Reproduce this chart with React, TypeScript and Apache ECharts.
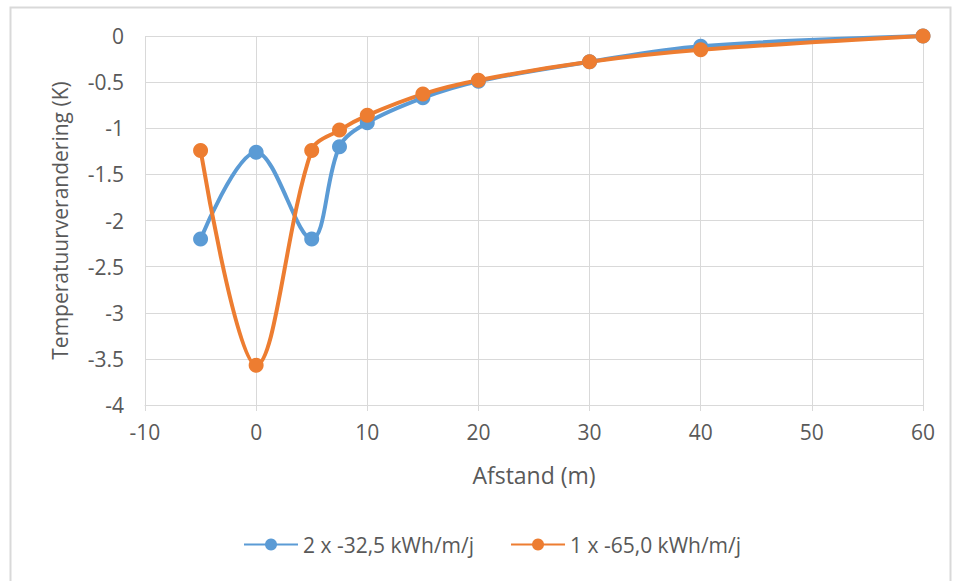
import React, { useEffect, useRef } from "react";
import * as echarts from "echarts";

const xValues = [-5, 0, 5, 7.5, 10, 15, 20, 30, 40, 60];
const blueValues = [-2.2, -1.26, -2.2, -1.2, -0.94, -0.67, -0.49, -0.28, -0.11, 0];
const orangeValues = [-1.24, -3.57, -1.24, -1.02, -0.86, -0.63, -0.48, -0.28, -0.15, 0];
const seriesNames = ["2 x -32,5 kWh/m/j", "1 x -65,0 kWh/m/j"];
const xAxisTitle = "Afstand (m)";
const yAxisTitle = "Temperatuurverandering (K)";

const FONT = "'Open Sans', 'Liberation Sans', sans-serif";
const TXT = "#595959";

export default function App() {
  const ref = useRef<HTMLDivElement>(null);
  useEffect(() => {
    if (!ref.current) return;
    const chart = echarts.init(ref.current, undefined, { renderer: "svg" });
    const mk = (ys: number[]) => xValues.map((x, i) => [x, ys[i]]);
    chart.setOption({
      animation: false,
      backgroundColor: "#ffffff",
      textStyle: { fontFamily: FONT },
      graphic: [
        {
          type: "rect",
          shape: { x: 10.5, y: 7.5, width: 940, height: 590 },
          style: { fill: "none", stroke: "#d9d9d9", lineWidth: 2 },
          silent: true,
        },
      ],
      grid: { left: 145, right: 32, top: 36, bottom: 176, containLabel: false },
      legend: {
        top: 529,
        left: 238,
        itemGap: 36,
        itemWidth: 54,
        itemHeight: 15,
        textStyle: { color: TXT, fontSize: 21, fontFamily: FONT },
        data: seriesNames,
      },
      xAxis: {
        type: "value",
        min: -10,
        max: 60,
        interval: 10,
        name: xAxisTitle,
        nameLocation: "middle",
        nameGap: 58,
        nameTextStyle: { color: TXT, fontSize: 23, fontFamily: FONT },
        axisLine: { show: true, onZero: false, lineStyle: { color: "#d9d9d9", width: 1 } },
        axisTick: { show: true, length: 6, lineStyle: { color: "#d9d9d9" } },
        axisLabel: { color: TXT, fontSize: 21, margin: 16, fontFamily: FONT },
        splitLine: { show: true, lineStyle: { color: "#d9d9d9", width: 1 } },
      },
      yAxis: {
        type: "value",
        min: -4,
        max: 0,
        interval: 0.5,
        name: yAxisTitle,
        nameLocation: "middle",
        nameGap: 75,
        nameRotate: 90,
        nameTextStyle: { color: TXT, fontSize: 21, fontFamily: FONT },
        axisLine: { show: false },
        axisTick: { show: false },
        axisLabel: { color: TXT, fontSize: 21, margin: 21, fontFamily: FONT },
        splitLine: { show: true, lineStyle: { color: "#d9d9d9", width: 1 } },
      },
      series: [
        {
          name: seriesNames[0],
          type: "line",
          data: mk(blueValues),
          smooth: 0.35,
          symbol: "circle",
          symbolSize: 15,
          itemStyle: { color: "#5B9BD5" },
          lineStyle: { color: "#5B9BD5", width: 4 },
        },
        {
          name: seriesNames[1],
          type: "line",
          data: mk(orangeValues),
          smooth: 0.35,
          symbol: "circle",
          symbolSize: 15,
          itemStyle: { color: "#ED7D31" },
          lineStyle: { color: "#ED7D31", width: 4 },
        },
      ],
    });
    return () => chart.dispose();
  }, []);
  return (
    <div
      ref={ref}
      style={{ position: "fixed", left: 0, top: 0, width: 955, height: 581 }}
    />
  );
}
